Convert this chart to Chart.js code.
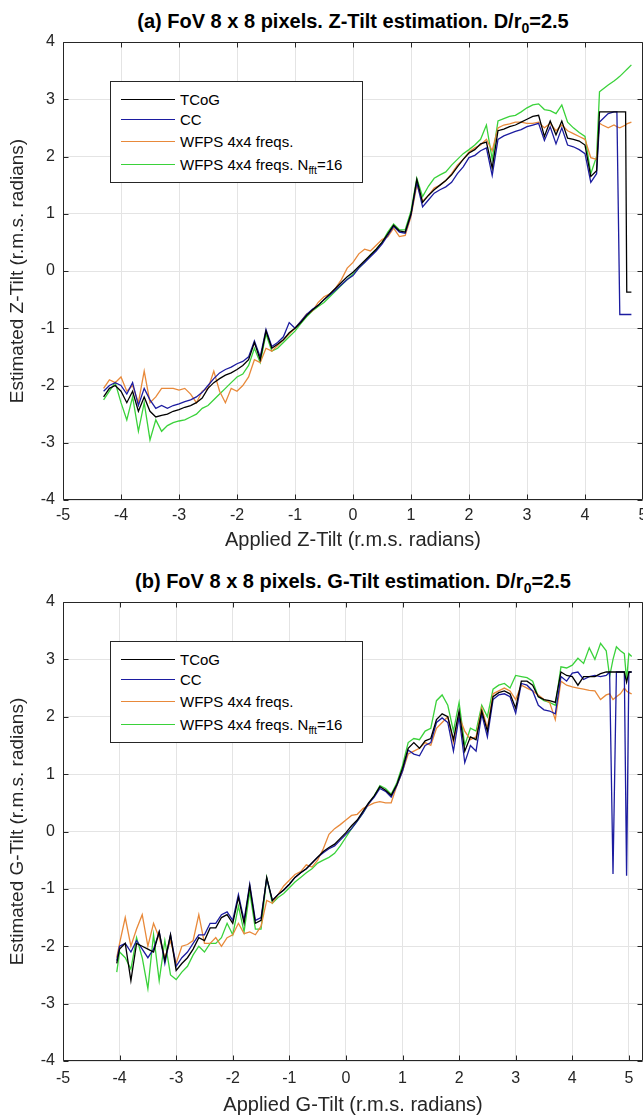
<!DOCTYPE html>
<html><head><meta charset="utf-8">
<script src="https://cdn.jsdelivr.net/npm/chart.js@4.4.1/dist/chart.umd.min.js"></script>
<style>
html,body{margin:0;padding:0;background:#fff;}
body{width:643px;height:1117px;position:relative;overflow:hidden;font-family:"Liberation Sans",Arial,sans-serif;}
canvas{position:absolute;left:0;}
.title{position:absolute;left:63px;width:580px;text-align:center;font-weight:bold;font-size:20px;line-height:24px;color:#000;white-space:nowrap;}
sub{font-size:70%;vertical-align:-0.35em;line-height:0;}
.legend{position:absolute;border:1px solid #262626;background:#fff;font-size:15px;color:#000;box-sizing:border-box;padding:7px 0 6px 0;}
.legend .row{display:flex;align-items:center;white-space:nowrap;}
.legend .ln{display:inline-block;width:54px;height:0;border-top:1.5px solid #000;margin:0 5px 0 10px;}
</style></head><body>
<div class="title" id="t1" style="top:9px"></div>
<canvas id="c1" width="643" height="558" style="top:0"></canvas>
<div class="legend" id="lg1" style="left:110px;top:81px;width:253px;"></div>
<div class="title" id="t2" style="top:569px"></div>
<canvas id="c2" width="643" height="559" style="top:558px"></canvas>
<div class="legend" id="lg2" style="left:110px;top:641px;width:253px;"></div>
<script>
// ---------- DATA ----------
const seriesNames = ["TCoG", "CC", "WFPS 4x4 freqs.", "WFPS 4x4 freqs. N<sub>fft</sub>=16"];
const seriesColors = ["#000000", "#1c1ca0", "#e8893a", "#3ad23a"];
const titleZ = "(a) FoV 8 x 8 pixels. Z-Tilt estimation. D/r<sub>0</sub>=2.5";
const titleG = "(b) FoV 8 x 8 pixels. G-Tilt estimation. D/r<sub>0</sub>=2.5";
const xTicks = [-5,-4,-3,-2,-1,0,1,2,3,4,5];
const yTicks = [-4,-3,-2,-1,0,1,2,3,4];

// (a) Z-Tilt
const zX = [-4.3,-4.2,-4.1,-4.0,-3.9,-3.8,-3.7,-3.6,-3.5,-3.4,
  -3.3,-3.2,-3.1,-3.0,-2.9,-2.8,-2.7,-2.6,-2.5,-2.4,
  -2.3,-2.2,-2.1,-2.0,-1.9,-1.8,-1.7,-1.6,-1.5,-1.4,
  -1.3,-1.2,-1.1,-1.0,-0.9,-0.8,-0.7,-0.6,-0.5,-0.4,
  -0.3,-0.2,-0.1,0.0,0.1,0.2,0.3,0.4,0.5,0.6,
  0.7,0.8,0.9,1.0,1.1,1.2,1.3,1.4,1.5,1.6,
  1.7,1.8,1.9,2.0,2.1,2.2,2.3,2.4,2.5,2.6,
  2.7,2.8,2.9,3.0,3.1,3.2,3.3,3.4,3.5,3.6,
  3.7,3.8,3.9,4.0,4.1,4.2,
  4.25,4.3,4.4,4.5,4.55,4.6,4.7,4.72,4.8];
const zTCoG = [-2.2,-2.05,-2.0,-2.1,-2.3,-2.1,-2.45,-2.2,-2.45,-2.55,
  -2.52,-2.5,-2.45,-2.42,-2.38,-2.35,-2.3,-2.22,-2.05,-1.95,
  -1.88,-1.82,-1.78,-1.72,-1.65,-1.55,-1.25,-1.55,-1.05,-1.35,
  -1.28,-1.2,-1.08,-1.0,-0.9,-0.78,-0.68,-0.6,-0.5,-0.4,
  -0.3,-0.2,-0.1,-0.02,0.08,0.18,0.28,0.38,0.5,0.65,
  0.8,0.7,0.68,1.0,1.6,1.2,1.32,1.42,1.5,1.58,
  1.68,1.82,1.95,2.06,2.12,2.22,2.25,1.8,2.45,2.48,
  2.52,2.55,2.6,2.65,2.7,2.72,2.35,2.62,2.38,2.62,
  2.32,2.3,2.27,2.2,1.65,1.75,
  2.78,2.78,2.78,2.78,2.78,2.78,2.78,-0.37,-0.37];
const zCC = [-2.1,-2.0,-1.95,-2.0,-2.15,-1.95,-2.35,-2.05,-2.25,-2.4,
  -2.35,-2.4,-2.35,-2.32,-2.28,-2.25,-2.2,-2.12,-2.0,-1.88,
  -1.78,-1.72,-1.68,-1.62,-1.58,-1.5,-1.22,-1.5,-1.02,-1.32,
  -1.25,-1.15,-0.9,-1.0,-0.88,-0.76,-0.67,-0.6,-0.5,-0.42,
  -0.33,-0.24,-0.15,-0.08,0.05,0.15,0.25,0.35,0.47,0.62,
  0.78,0.68,0.66,0.98,1.55,1.12,1.24,1.36,1.42,1.47,
  1.55,1.7,1.82,1.98,2.02,2.1,2.15,1.67,2.3,2.36,
  2.4,2.44,2.47,2.52,2.55,2.58,2.28,2.52,2.22,2.5,
  2.2,2.17,2.12,2.05,1.55,1.7,
  2.6,2.65,2.75,2.78,2.78,-0.76,-0.76,-0.76,-0.76];
const zWFPS = [-2.05,-1.9,-1.95,-1.85,-2.1,-2.0,-2.3,-1.75,-2.3,-2.2,
  -2.05,-2.05,-2.05,-2.08,-2.05,-2.15,-2.3,-2.1,-2.05,-1.75,
  -2.1,-2.3,-2.05,-2.1,-2.0,-1.85,-1.55,-1.6,-1.35,-1.4,
  -1.3,-1.2,-1.1,-1.0,-0.88,-0.75,-0.7,-0.55,-0.45,-0.4,
  -0.3,-0.15,0.05,0.15,0.3,0.38,0.35,0.45,0.55,0.6,
  0.75,0.6,0.62,0.95,1.5,1.22,1.32,1.45,1.5,1.58,
  1.7,1.85,1.95,2.08,2.15,2.2,2.3,2.1,2.5,2.55,
  2.57,2.6,2.6,2.58,2.58,2.6,2.5,2.58,2.45,2.55,
  2.45,2.4,2.35,2.3,1.98,1.95,
  2.58,2.55,2.5,2.55,2.52,2.5,2.55,2.57,2.6];
const zWFPS16 = [-2.25,-2.1,-1.95,-2.3,-2.6,-2.2,-2.8,-2.3,-2.95,-2.6,
  -2.8,-2.7,-2.65,-2.62,-2.6,-2.55,-2.5,-2.4,-2.35,-2.25,
  -2.15,-2.05,-1.95,-1.85,-1.8,-1.65,-1.35,-1.6,-1.1,-1.4,
  -1.35,-1.25,-1.15,-1.05,-0.92,-0.8,-0.7,-0.62,-0.55,-0.45,
  -0.35,-0.25,-0.15,-0.05,0.05,0.15,0.28,0.38,0.5,0.68,
  0.82,0.72,0.72,1.05,1.62,1.3,1.48,1.62,1.68,1.73,
  1.85,1.95,2.05,2.12,2.2,2.3,2.55,1.95,2.62,2.66,
  2.7,2.72,2.78,2.85,2.9,2.92,2.82,2.8,2.75,2.9,
  2.6,2.5,2.42,2.35,1.7,2.0,
  3.13,3.17,3.25,3.32,3.36,3.4,3.5,3.52,3.6];

// (b) G-Tilt
const gX = [-4.05,
  -4.0,-3.9,-3.8,-3.7,-3.6,-3.5,-3.4,-3.3,-3.2,-3.1,
  -3.0,-2.9,-2.8,-2.7,-2.6,-2.5,-2.4,-2.3,-2.2,-2.1,
  -2.0,-1.9,-1.8,-1.7,-1.6,-1.5,-1.4,-1.3,-1.2,-1.1,
  -1.0,-0.9,-0.8,-0.7,-0.6,-0.5,-0.4,-0.3,-0.2,-0.1,
  0.0,0.1,0.2,0.3,0.4,0.5,0.6,0.7,0.8,0.9,
  1.0,1.1,1.2,1.3,1.4,1.5,1.6,1.7,1.8,1.9,
  2.0,2.1,2.2,2.3,2.4,2.5,2.6,2.7,2.8,2.9,
  3.0,3.1,3.2,3.3,3.4,3.5,3.6,3.7,3.8,3.9,
  4.0,4.1,4.2,4.3,4.4,4.5,4.6,
  4.66,4.72,4.78,4.85,4.92,4.96,5.0,5.05];
const gTCoG = [-2.3,
  -2.05,-1.95,-2.6,-1.95,-2.0,-2.05,-2.1,-1.75,-2.25,-1.8,
  -2.42,-2.3,-2.2,-2.05,-1.85,-1.9,-1.68,-1.68,-1.5,-1.45,
  -1.6,-1.15,-1.6,-0.95,-1.6,-1.55,-0.8,-1.2,-1.1,-1.02,
  -0.92,-0.8,-0.72,-0.65,-0.55,-0.45,-0.35,-0.28,-0.22,-0.12,
  -0.02,0.1,0.2,0.35,0.5,0.62,0.78,0.72,0.63,0.82,
  1.1,1.45,1.55,1.45,1.58,1.62,1.95,2.05,2.0,1.6,
  2.1,1.4,1.65,1.6,2.1,1.75,2.35,2.42,2.45,2.4,
  2.15,2.62,2.62,2.55,2.35,2.3,2.28,2.25,2.78,2.72,
  2.7,2.55,2.7,2.7,2.7,2.75,2.78,
  2.78,2.78,2.78,2.78,2.78,2.6,2.78,2.78];
const gCC = [-2.25,
  -2.0,-1.95,-2.1,-1.9,-2.05,-2.2,-2.05,-1.75,-2.3,-1.8,
  -2.35,-2.2,-2.1,-1.95,-1.8,-1.8,-1.6,-1.6,-1.45,-1.4,
  -1.55,-1.1,-1.55,-0.92,-1.55,-1.5,-0.82,-1.2,-1.1,-1.02,
  -0.92,-0.8,-0.72,-0.65,-0.55,-0.45,-0.37,-0.3,-0.25,-0.15,
  -0.05,0.05,0.18,0.32,0.48,0.6,0.75,0.7,0.6,0.8,
  1.05,1.42,1.35,1.32,1.5,1.55,1.9,1.98,1.9,1.4,
  2.0,1.2,1.5,1.4,2.05,1.65,2.3,2.38,2.4,2.35,
  2.06,2.58,2.55,2.45,2.2,2.12,2.1,2.05,2.7,2.62,
  2.76,2.78,2.65,2.7,2.72,2.7,2.72,
  2.78,-0.74,2.78,2.78,2.78,-0.77,2.78,2.78];
const gWFPS = [-2.2,
  -1.95,-1.5,-2.0,-1.7,-1.45,-2.0,-1.6,-1.85,-2.2,-1.9,
  -2.3,-2.0,-1.97,-1.9,-1.45,-1.95,-1.95,-1.85,-2.0,-1.85,
  -1.8,-1.6,-1.78,-1.75,-1.8,-1.65,-1.2,-1.25,-1.1,-0.95,
  -0.85,-0.75,-0.7,-0.58,-0.62,-0.5,-0.3,-0.05,0.05,0.12,
  0.2,0.28,0.3,0.4,0.45,0.5,0.52,0.5,0.5,0.8,
  1.05,1.35,1.4,1.45,1.55,1.5,1.8,1.9,2.0,1.55,
  2.0,1.75,1.6,1.65,2.15,1.8,2.4,2.45,2.5,2.45,
  2.3,2.55,2.5,2.45,2.38,2.3,2.25,1.95,2.62,2.55,
  2.52,2.5,2.48,2.46,2.45,2.3,2.38,
  2.4,2.3,2.35,2.4,2.5,2.45,2.42,2.4];
const gWFPS16 = [-2.45,
  -2.1,-2.2,-2.4,-1.85,-2.2,-2.74,-1.8,-2.6,-1.9,-2.5,
  -2.58,-2.45,-2.35,-2.15,-2.0,-2.1,-1.95,-1.95,-1.85,-1.6,
  -1.8,-1.3,-1.75,-1.05,-1.7,-1.7,-0.8,-1.25,-1.15,-1.08,
  -0.98,-0.88,-0.8,-0.72,-0.65,-0.55,-0.5,-0.45,-0.38,-0.25,
  -0.1,0.05,0.18,0.32,0.48,0.62,0.8,0.75,0.65,0.85,
  1.15,1.55,1.62,1.6,1.75,1.8,2.28,2.38,2.2,1.75,
  2.25,1.5,1.8,1.75,2.2,2.0,2.48,2.55,2.58,2.5,
  2.72,2.7,2.68,2.62,2.35,2.28,2.25,2.2,2.87,2.85,
  2.9,3.02,2.93,3.2,3.0,3.28,3.15,
  2.7,3.0,3.22,3.15,3.1,2.64,3.1,3.05];

// ---------- RENDER ----------
const FONT = '"Liberation Sans", Arial, Helvetica, sans-serif';
Chart.defaults.font.family = FONT;
Chart.defaults.color = '#262626';

const boxPlugin = {
  id: 'matlabBox',
  afterDraw(chart) {
    const {ctx, chartArea: a, scales} = chart;
    const x = scales.x, y = scales.y;
    ctx.save();
    ctx.strokeStyle = '#262626';
    ctx.lineWidth = 1;
    const L = Math.round(a.left) + 0.5, R = Math.round(a.right) - 0.5;
    const T = Math.round(a.top) + 0.5, B = Math.round(a.bottom) - 0.5;
    ctx.beginPath();
    ctx.rect(L, T, R - L, B - T);
    ctx.stroke();
    ctx.beginPath();
    x.ticks.forEach(t => {
      const px = Math.round(x.getPixelForValue(t.value)) + 0.5;
      ctx.moveTo(px, B); ctx.lineTo(px, B - 5);
      ctx.moveTo(px, T); ctx.lineTo(px, T + 5);
    });
    y.ticks.forEach(t => {
      const py = Math.round(y.getPixelForValue(t.value)) + 0.5;
      ctx.moveTo(L, py); ctx.lineTo(L + 5, py);
      ctx.moveTo(R, py); ctx.lineTo(R - 5, py);
    });
    ctx.stroke();
    ctx.restore();
  }
};

function makeChart(canvasId, xs, ys, xMax, xLabel, yLabel, padTop, xScaleH, tickPad, xTitlePadB) {
  const datasets = ys.map((arr, k) => ({
    label: seriesNames[k].replace(/<[^>]+>/g, ''),
    data: xs.map((xv, i) => ({x: xv, y: arr[i]})),
    borderColor: seriesColors[k],
    borderWidth: 1.3,
    pointRadius: 0,
    tension: 0,
    fill: false
  }));
  return new Chart(document.getElementById(canvasId), {
    type: 'line',
    data: {datasets},
    plugins: [boxPlugin],
    options: {
      responsive: false,
      animation: false,
      devicePixelRatio: 1,
      layout: {padding: {top: padTop, right: 0, bottom: 0, left: 0}},
      plugins: {legend: {display: false}, tooltip: {enabled: false}, title: {display: false}},
      scales: {
        x: {
          type: 'linear', min: -5, max: xMax,
          afterBuildTicks(s) { s.ticks = xTicks.map(v => ({value: v})); },
          ticks: {font: {size: 16}, color: '#262626', padding: tickPad, includeBounds: false, autoSkip: false, maxRotation: 0},
          grid: {color: '#e4e4e4', drawTicks: false, lineWidth: 1},
          border: {display: false},
          title: {display: true, text: xLabel, font: {size: 20}, color: '#262626', padding: {top: 0, bottom: xTitlePadB}},
          afterFit(s) { s.height = xScaleH; s.paddingLeft = 0; s.paddingRight = 0; }
        },
        y: {
          type: 'linear', min: -4, max: 4,
          afterBuildTicks(s) { s.ticks = yTicks.map(v => ({value: v})); },
          ticks: {font: {size: 16}, color: '#262626', padding: 8},
          grid: {color: '#e4e4e4', drawTicks: false, lineWidth: 1},
          border: {display: false},
          title: {display: true, text: yLabel, font: {size: 19}, color: '#262626', padding: {top: 6, bottom: 0}},
          afterFit(s) { s.width = 63; s.paddingTop = 0; s.paddingBottom = 0; }
        }
      }
    }
  });
}

const legendRowHeights = [20, 21, 22, 24];
function makeLegend(id) {
  const el = document.getElementById(id);
  el.innerHTML = seriesNames.map((n, k) =>
    '<div class="row" style="height:' + legendRowHeights[k] + 'px"><span class="ln" style="border-top-color:' + seriesColors[k] + '"></span><span>' + n + '</span></div>'
  ).join('');
}

document.getElementById('t1').innerHTML = titleZ;
document.getElementById('t2').innerHTML = titleG;
makeLegend('lg1');
makeLegend('lg2');

makeChart('c1', zX, [zTCoG, zCC, zWFPS, zWFPS16], 5,
  'Applied Z-Tilt (r.m.s. radians)', 'Estimated Z-Tilt (r.m.s. radians)', 42, 58, 6, 6);
makeChart('c2', gX, [gTCoG, gCC, gWFPS, gWFPS16], 5.25,
  'Applied G-Tilt (r.m.s. radians)', 'Estimated G-Tilt (r.m.s. radians)', 44, 56, 8, 0);
</script>
</body></html>
